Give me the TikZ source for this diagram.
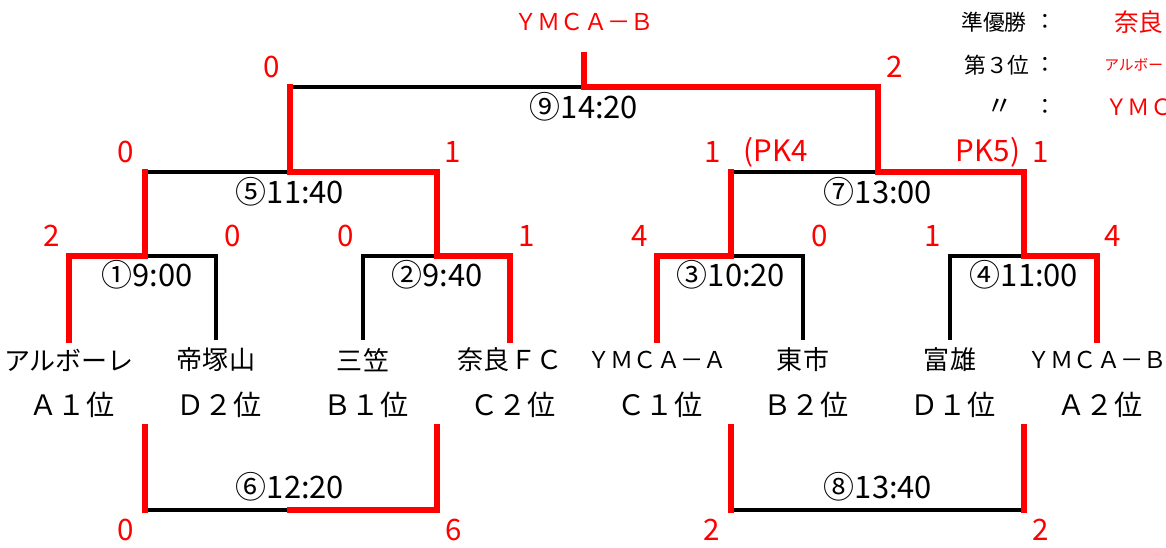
\documentclass[tikz,border=0pt]{standalone}
\usepackage{fontspec}
\setmainfont{Noto Sans CJK JP}
\usetikzlibrary{positioning}

\begin{document}
\begin{tikzpicture}[
    x=0.025cm, y=-0.025cm,
    loser/.style={line width=2.2pt, black},
    winner/.style={line width=3.8pt, red, line cap=rect},
    team/.style={font=\fontsize{18.5}{20}\selectfont, inner sep=0pt},
    latin/.style={font=\fontsize{16.5}{18}\selectfont, inner sep=0pt},
    rank/.style={font=\fontsize{20}{22}\selectfont, inner sep=0pt},
    match/.style={font=\fontsize{22}{24}\selectfont, inner sep=0pt},
    score/.style={font=\fontsize{21}{23}\selectfont, text=red, inner sep=0pt},
    note/.style={font=\fontsize{15.5}{17}\selectfont, inner sep=0pt}
]
\clip (0,0) rectangle (1166,547);

% Teams
\node[team] (alv) at (69,360) {アルボーレ};
\node[team] (tez) at (216,360) {帝塚山};
\node[team] (mik) at (363,360) {三笠};
\node[team] (nfc) at (510,360) {奈良ＦＣ};
\node[latin] (ya) at (657,360) {ＹＭＣＡ－Ａ};
\node[team] (hig) at (803,360) {東市};
\node[team] (tom) at (950,360) {富雄};
\node[latin] (yb) at (1097,360) {ＹＭＣＡ－Ｂ};

% Group ranks
\node[rank] (alvr) at (72,405) {Ａ１位};
\node[rank] (tezr) at (219,405) {Ｄ２位};
\node[rank] (mikr) at (366,405) {Ｂ１位};
\node[rank] (nfcr) at (513,405) {Ｃ２位};
\node[rank] (yar) at (660,405) {Ｃ１位};
\node[rank] (higr) at (806,405) {Ｂ２位};
\node[rank] (tomr) at (953,405) {Ｄ１位};
\node[rank] (ybr) at (1100,405) {Ａ２位};

% Bracket points
\coordinate (t1) at (69,340);
\coordinate (t2) at (216,340);
\coordinate (t3) at (363,340);
\coordinate (t4) at (510,340);
\coordinate (t5) at (657,340);
\coordinate (t6) at (803,340);
\coordinate (t7) at (950,340);
\coordinate (t8) at (1097,340);
\coordinate (r1) at (145,256);
\coordinate (r2) at (437,256);
\coordinate (r3) at (731,256);
\coordinate (r4) at (1024,256);
\coordinate (s5) at (290,172);
\coordinate (s7) at (878,172);
\coordinate (f9) at (584,87);
\coordinate (champ) at (584,55);
\coordinate (c6a) at (145,427);
\coordinate (c6b) at (437,427);
\coordinate (c6) at (290,510);
\coordinate (c8a) at (731,427);
\coordinate (c8b) at (1024,427);
\coordinate (c8) at (878,510);

% Lost lines
\draw[loser] (t2) |- (r1);
\draw[loser] (t3) |- (r2);
\draw[loser] (t6) |- (r3);
\draw[loser] (t7) |- (r4);
\draw[loser] (r1 |- s5) -- (s5);
\draw[loser] (r3 |- s7) -- (s7);
\draw[loser] (s5 |- f9) -- (f9);
\draw[loser] (c6a |- c6) -- (c6);
\draw[loser] (c8a |- c8) -- (c8b |- c8);

% Won lines
\draw[winner] (t1) |- (r1) -- (r1 |- s5);
\draw[winner] (t4) |- (r2) |- (s5) -- (s5 |- f9);
\draw[winner] (t5) |- (r3) -- (r3 |- s7);
\draw[winner] (t8) |- (r4) |- (s7) |- (f9) -- (champ);
\draw[winner] (c6a) -- (c6a |- c6);
\draw[winner] (c6b) |- (c6);
\draw[winner] (c8a) -- (c8a |- c8);
\draw[winner] (c8b) -- (c8b |- c8);

% Matches
\node[match] (g1) at (147,275) {①9:00};
\node[match] (g2) at (437,275) {②9:40};
\node[match] (g3) at (731,275) {③10:20};
\node[match] (g4) at (1024,275) {④11:00};
\node[match] (g5) at (290,192) {⑤11:40};
\node[match] (g7) at (878,192) {⑦13:00};
\node[match] (g9) at (584,107) {⑨14:20};
\node[match] (g6) at (290,487) {⑥12:20};
\node[match] (g8) at (878,487) {⑧13:40};

% Scores
\node[score] (p1a) at (52,236) {2};
\node[score] (p1b) at (233,236) {0};
\node[score] (p2a) at (346,236) {0};
\node[score] (p2b) at (527,236) {1};
\node[score] (p3a) at (640,236) {4};
\node[score] (p3b) at (820,236) {0};
\node[score] (p4a) at (933,236) {1};
\node[score] (p4b) at (1113,236) {4};
\node[score] (p5a) at (126,152) {0};
\node[score] (p5b) at (453,152) {1};
\node[score] (p7a) at (713,152) {1};
\node[score] (pk7a) at (776,152) {(PK4};
\node[score] (pk7b) at (988,152) {PK5)};
\node[score] (p7b) at (1041,152) {1};
\node[score] (p9a) at (272,67) {0};
\node[score] (p9b) at (895,67) {2};
\node[score] (p6a) at (126,530) {0};
\node[score] (p6b) at (454,530) {6};
\node[score] (p8a) at (712,530) {2};
\node[score] (p8b) at (1041,530) {2};
\node[latin, text=red] (champn) at (584,22) {ＹＭＣＡ－Ｂ};

% Results
\node[note, anchor=east] (second) at (1027,22) {準優勝};
\node[note] (col1) at (1045,22) {：};
\node[note, anchor=east] (third) at (1030,65) {第３位};
\node[note] (col2) at (1045,65) {：};
\node[note, font=\fontsize{19}{21}\selectfont] (ditto) at (1000,107) {〃};
\node[note] (col3) at (1045,107) {：};
\node[font=\fontsize{17.5}{19}\selectfont, text=red, inner sep=0pt, anchor=west] (secondn) at (1114,22) {奈良ＦＣ};
\node[font=\fontsize{10.5}{12}\selectfont, text=red, inner sep=0pt, anchor=west] (thirdn) at (1104,65) {アルボーレ};
\node[font=\fontsize{16}{18}\selectfont, text=red, inner sep=0pt, anchor=west] (thirdn2) at (1105,107) {ＹＭＣＡ－Ａ};

\end{tikzpicture}
\end{document}
